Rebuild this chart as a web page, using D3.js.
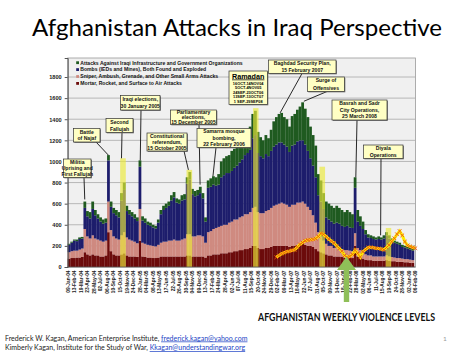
<!DOCTYPE html>
<html><head><meta charset="utf-8">
<script src="https://cdn.jsdelivr.net/npm/d3@7"></script>
<style>
html,body{margin:0;padding:0;background:#fff;}
svg{display:block;}
</style></head>
<body>
<svg id="c" width="474" height="355"></svg>
<script>
// ---------------- DATA ----------------
const startDate = new Date(2004, 0, 9);
const weeksPerBar = 2;
const tickLabels = ["09-Jan-04","13-Feb-04","19-Mar-04","23-Apr-04","28-May-04","02-Jul-04","06-Aug-04","10-Sep-04","15-Oct-04","19-Nov-04","24-Dec-04","28-Jan-05","04-Mar-05","08-Apr-05","13-May-05","17-Jun-05","22-Jul-05","26-Aug-05","30-Sep-05","04-Nov-05","09-Dec-05","13-Jan-06","17-Feb-06","24-Mar-06","28-Apr-06","02-Jun-06","07-Jul-06","11-Aug-06","15-Sep-06","20-Oct-06","24-Nov-06","29-Dec-06","02-Feb-07","09-Mar-07","13-Apr-07","18-May-07","22-Jun-07","27-Jul-07","31-Aug-07","05-Oct-07","09-Nov-07","14-Dec-07","18-Jan-08","22-Feb-08","28-Mar-08","02-May-08","06-Jun-08","11-Jul-08","15-Aug-08","19-Sep-08","24-Oct-08","28-Nov-08","02-Jan-09","06-Feb-09"];
const yTicks = [0,200,400,600,800,1000,1200,1400,1600,1800];

// two-week values, Jan 2004 - Feb 2009
const mortar = [80,85,85,90,90,95, 140,120,110,120,110,110,100,100,110, 330, 150,120,110,110, 120,130,110,100,100,100,95, 250, 100,95,90,90,85,85, 90,100,100,100,100,100,100,100,100,100,100, 110,110,100,100,100,100,100, 90, 110,110,120,120,120, 130,130,130,140,140,150,150,160,160,170,170,180, 200,200, 180,170,170,180,180,190,200,200, 200,200,200,200,190,200,200,210,210,220,210,200,200,190,170, 150,140,130,120,110,110,100,100,100,95,90,90,85,85, 200, 100,90,80,70,65,65,60,60,60,60, 60,65,60,55,55,50,50,50,45,45,40,40];
const sniper = [60,65,70,65,75,80, 220,170,160,180,160,150,150,140,140, 290, 200,170,160,150, 180,200,170,160,150,140,130, 300, 130,125,120,115,115,110, 120,130,140,140,150,150,160,150,150,160,170, 200,200,190,190,200,200,190, 140, 220,230,240,250,260, 260,270,270,280,290,300,300,310,320,330,330,340, 360,370, 340,340,340,350,360,370,380,390, 400,410,400,390,380,390,390,400,400,400,390,370,340,300,250, 180,150,120,100,90,90,80,80,80,75,70,70,70,65, 120, 80,70,60,50,45,45,40,40,40,40, 40,45,40,40,35,35,35,30,30,30,30,25];
const bombs = [70,80,95,90,100,95, 200,190,190,250,220,200,180,170,170, 390, 220,220,220,210, 330,400,250,240,230,220,210, 400, 210,200,190,185,175,170, 210,270,300,320,330,380,400,360,350,370,370, 480,520,400,380,380,400,360, 200, 420,420,420,400,400, 460,470,490,470,480,490,510,520,540,560,580,590, 660,680, 560,540,520,540,510,540,560,570, 580,570,560,550,520,560,570,580,590,580,560,530,490,470,430, 350,330,300,250,250,230,230,240,230,220,220,230,220,220, 430, 250,230,220,190,170,165,165,160,165,160, 170,190,170,150,140,135,125,110,110,100,95,90];
const infrastructure = [10,10,10,15,15,15, 60,50,60,70,50,40,40,40,40, 50, 50,50,50,50, 70,70,50,40,40,40,35, 60, 40,40,30,30,25,25, 30,40,40,40,40,50,50,40,40,50,50, 60,70,50,50,50,60,50, 40, 70,80,80,80,100, 150,160,160,170,190,180,190,190,210,220,220,220, 230,230, 200,180,170,180,170,200,240,260, 270,280,260,260,240,280,290,300,320,360,340,320,300,290,300, 200,200,150,150,150,150,150,160,150,150,140,150,145,130, 100, 110,90,70,40,30,25,25,20,25,20, 30,30,30,25,20,20,20,20,15,15,15,15];

const seriesNames = ["Mortar, Rocket, and Surface to Air Attacks","Sniper, Ambush, Grenade, and Other Small Arms Attacks","Bombs (IEDs and Mines), Both Found and Exploded","Attacks Against Iraqi Infrastructure and Government Organizations"];
const seriesColors = ["#6c0b0b","#cf8a80","#1d1d6c","#1f5a20"];

const ramadanStarts = ["2004-10-15","2005-10-04","2006-09-24","2007-09-13","2008-09-01"];
const ramadanEnds   = ["2004-11-14","2005-11-03","2006-10-23","2007-10-13","2008-09-30"];
const ramadanPeaks  = [1030, 920, 1505, 950, 370];
const ramadanDates  = ["16OCT-14NOV04","5OCT-4NOV05","24SEP-23OCT06","13SEP-13OCT07","1 SEP-29SEP08"];

const afghanStartWeek = 159, afghanStepWeeks = 2;
const afghanValues = [92,110,125,136,145,150,158,162,190,215,232,248,256,258,262,268,290,318,310,287,265,245,228,200,175,150,110,92,100,120,158,130,95,145,165,185,188,182,178,176,170,162,185,208,240,272,310,340,300,240,205,195,185,178];

// ---------------- CHART ----------------
const svg = d3.select("#c");
const FONT = "'Liberation Sans', Arial, sans-serif";
const weekOf = s => (new Date(s + "T00:00:00") - startDate) / (7 * 864e5);

const x = d3.scaleLinear().domain([0, 266]).range([67.7, 416.7]);
const y = d3.scaleLinear().domain([0, 1980]).range([267, 58]);
const plotL = 67.7, plotR = 415.5, plotT = 58, plotB = 267;

// title
svg.append("text").attr("x", 237).attr("y", 36).attr("text-anchor", "middle")
  .attr("font-family", "Lato, 'Open Sans', sans-serif").attr("font-size", 22.5)
  .attr("textLength", 410).attr("lengthAdjust", "spacingAndGlyphs")
  .text("Afghanistan Attacks in Iraq Perspective");

// plot background
svg.append("rect").attr("x", plotL).attr("y", plotT).attr("width", plotR - plotL).attr("height", plotB - plotT)
  .attr("fill", "#f0f0f0").attr("stroke", "#9a9a9a").attr("stroke-width", 0.8);

// gridlines
svg.append("g").selectAll("line").data(yTicks.filter(d => d > 0)).join("line")
  .attr("x1", plotL).attr("x2", plotR).attr("y1", d => y(d)).attr("y2", d => y(d))
  .attr("stroke", "#a8a8a8").attr("stroke-width", 0.8);

// stacked bars
const table = mortar.map((m, i) => ({i, mortar: m, sniper: sniper[i], bombs: bombs[i], infrastructure: infrastructure[i]}));
const keys = ["mortar","sniper","bombs","infrastructure"];
const stack = d3.stack().keys(keys)(table);
svg.append("g").selectAll("g").data(stack).join("g").attr("fill", (d, k) => seriesColors[k])
  .selectAll("rect").data(d => d).join("rect")
  .attr("x", d => x(d.data.i * weeksPerBar))
  .attr("width", x(weeksPerBar) - x(0) + 0.15)
  .attr("y", d => y(d[1]))
  .attr("height", d => y(d[0]) - y(d[1]));

// Ramadan highlight bands
svg.append("g").selectAll("rect").data(ramadanStarts).join("rect")
  .attr("x", (d) => x(weekOf(d)))
  .attr("width", (d, i) => x(weekOf(ramadanEnds[i])) - x(weekOf(d)))
  .attr("y", (d, i) => y(ramadanPeaks[i]))
  .attr("height", (d, i) => y(0) - y(ramadanPeaks[i]))
  .attr("fill", "#ecea3a").attr("opacity", 0.66);

// axes
const yAxis = svg.append("g").attr("transform", `translate(${plotL},0)`)
  .call(d3.axisLeft(y).tickValues(yTicks).tickSize(3).tickFormat(d3.format("d")));
yAxis.select(".domain").attr("stroke", "#555");
yAxis.selectAll(".tick line").attr("stroke", "#555");
yAxis.selectAll("text").attr("font-family", FONT).attr("font-weight", "bold").attr("font-size", 5.6).attr("fill", "#222").attr("x", -6);

svg.append("line").attr("x1", plotL).attr("x2", plotR).attr("y1", plotB).attr("y2", plotB).attr("stroke", "#555").attr("stroke-width", 0.8);

const xg = svg.append("g");
xg.selectAll("text").data(tickLabels).join("text")
  .attr("transform", (d, k) => `translate(${x(k * 5 + 0.5) + 1.2},270.5) rotate(-90)`)
  .attr("text-anchor", "end").attr("font-family", FONT).attr("font-weight", "bold")
  .attr("font-size", 4.8).attr("fill", "#222").text(d => d);

// legend
const legendOrder = [3, 2, 1, 0];
const lg = svg.append("g");
legendOrder.forEach((s, j) => {
  const ly = 64.5 + j * 6.9;
  lg.append("rect").attr("x", 76.2).attr("y", ly - 3.2).attr("width", 2.8).attr("height", 2.8).attr("fill", seriesColors[s]);
  lg.append("text").attr("x", 80.3).attr("y", ly).attr("font-family", FONT).attr("font-weight", "bold")
    .attr("font-size", 5.1).attr("fill", "#111").text(seriesNames[s]);
});

// Afghanistan weekly violence line
const afPts = afghanValues.map((v, i) => [x(afghanStartWeek + i * afghanStepWeeks), y(v)]);
svg.append("path").attr("d", d3.line()(afPts)).attr("fill", "none").attr("stroke", "#fff000").attr("stroke-width", 3);
const mk = svg.append("g").attr("stroke", "#ee5a10").attr("stroke-width", 0.95);
afPts.forEach(([px, py]) => {
  mk.append("line").attr("x1", px - 1.8).attr("x2", px + 1.8).attr("y1", py - 1.8).attr("y2", py + 1.8);
  mk.append("line").attr("x1", px - 1.8).attr("x2", px + 1.8).attr("y1", py + 1.8).attr("y2", py - 1.8);
});

// annotations
const notes = [
  {lines:["Militia","Uprising and","First Fallujah"], box:[63.5,159,27.5,18.5], from:[84,177.5], week:13, value:640},
  {lines:["Battle","of Najaf"], box:[73.5,128.5,26.5,13.5], from:[96,142], week:31, value:1060},
  {lines:["Second","Fallujah"], box:[106,118.5,27,14], from:[122,132.5], week:41, value:1030},
  {lines:["Iraqi elections,","30 January 2005"], box:[120.5,95.5,39.5,14.5], from:[141,110], week:55.3, value:1010},
  {lines:["Constitutional","referendum,","15 October 2005"], box:[147,133,40,18], from:[184,151], week:92, value:920},
  {lines:["Parliamentary","elections,","15 December 2005"], box:[170.5,110,46,14.5], from:[199,124.5], week:100.9, value:780},
  {lines:["Samarra mosque","bombing,","22 February 2006"], box:[197,128.5,54,19], from:[216,147.5], week:110.7, value:860},
  {lines:["Baghdad Security Plan,","15 February 2007"], box:[268.5,60,67.5,13.5], from:[302,73.5], week:161.9, value:1460},
  {lines:["Surge of","Offensives"], box:[307.5,77,37,14.5], from:[327,91.5], week:180, value:1570},
  {lines:["Basrah and Sadr","City Operations,","25 March 2008"], box:[332,100,55,20], from:[357,120], week:219.6, value:850},
  {lines:["Diyala","Operations"], box:[363.5,145,39.5,13.5], from:[381,158.5], week:238.5, value:300}
];
const ng = svg.append("g");
notes.forEach(n => {
  ng.append("line").attr("x1", n.from[0]).attr("y1", n.from[1]).attr("x2", x(n.week)).attr("y2", y(n.value))
    .attr("stroke", "#111").attr("stroke-width", 0.9);
});
notes.forEach(n => {
  const [bx, by, bw, bh] = n.box;
  ng.append("rect").attr("x", bx + 0.8).attr("y", by + 0.8).attr("width", bw).attr("height", bh).attr("fill", "#666");
  ng.append("rect").attr("x", bx).attr("y", by).attr("width", bw).attr("height", bh).attr("fill", "#ffffc4").attr("stroke", "#333").attr("stroke-width", 0.7);
  const lh = bh / n.lines.length;
  n.lines.forEach((t, k) => {
    ng.append("text").attr("x", bx + bw / 2).attr("y", by + lh * (k + 0.5) + 1.8).attr("text-anchor", "middle")
      .attr("font-family", FONT).attr("font-weight", "bold").attr("font-size", 5.1).attr("fill", "#111").text(t);
  });
});

// Ramadan box
const rb = svg.append("g");
rb.append("rect").attr("x", 229.8).attr("y", 71.8).attr("width", 38.5).attr("height", 33.5).attr("fill", "#666");
rb.append("rect").attr("x", 229).attr("y", 71).attr("width", 38.5).attr("height", 33.5).attr("fill", "#ffffc4").attr("stroke", "#333").attr("stroke-width", 0.7);
rb.append("text").attr("x", 248.2).attr("y", 78.5).attr("text-anchor", "middle").attr("font-family", FONT)
  .attr("font-weight", "bold").attr("font-size", 7.2).attr("text-decoration", "underline").text("Ramadan");
ramadanDates.forEach((t, k) => {
  rb.append("text").attr("x", 248.2).attr("y", 84.5 + k * 4.5).attr("text-anchor", "middle").attr("font-family", FONT)
    .attr("font-weight", "bold").attr("font-size", 3.9).text(t);
});

// green arrow pointing at the Afghan trough
const ax = x(212.5);
svg.append("path")
  .attr("d", `M${ax - 2.7},302 L${ax - 2.7},270 L${ax - 9.5},270 L${ax},256.5 L${ax + 9.5},270 L${ax + 2.7},270 L${ax + 2.7},302 Z`)
  .attr("fill", "#8fbf58");

svg.append("text").attr("x", 346.5).attr("y", 321).attr("text-anchor", "middle")
  .attr("font-family", "Lato, sans-serif").attr("font-weight", "bold").attr("font-size", 10.5)
  .attr("textLength", 177).attr("lengthAdjust", "spacingAndGlyphs").attr("fill", "#111")
  .text("AFGHANISTAN WEEKLY VIOLENCE LEVELS");

// footer
const f1 = svg.append("text").attr("x", 5).attr("y", 340.5).attr("font-family", "Lato, sans-serif").attr("font-size", 7).attr("fill", "#222");
f1.append("tspan").text("Frederick W. Kagan, American Enterprise Institute, ");
f1.append("tspan").attr("fill", "#1a3fc4").attr("text-decoration", "underline").text("frederick.kagan@yahoo.com");
const f2 = svg.append("text").attr("x", 5).attr("y", 350).attr("font-family", "Lato, sans-serif").attr("font-size", 7).attr("fill", "#222");
f2.append("tspan").text("Kimberly Kagan, Institute for the Study of War, ");
f2.append("tspan").attr("fill", "#1a3fc4").attr("text-decoration", "underline").text("Kkagan@understandingwar.org");
svg.append("text").attr("x", 443).attr("y", 341).attr("font-family", "Lato, sans-serif").attr("font-size", 6.5).attr("fill", "#999").text("1");
</script>
</body></html>
